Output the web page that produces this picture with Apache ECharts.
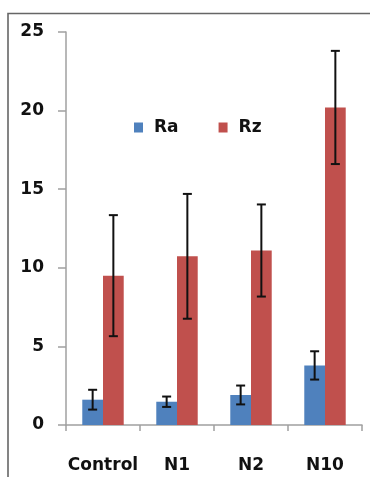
<!DOCTYPE html>
<html>
<head>
<meta charset="utf-8">
<script src="https://cdn.jsdelivr.net/npm/echarts@6/dist/echarts.min.js"></script>
<style>html,body{margin:0;padding:0;background:#fff;}#c{width:370px;height:477px;}</style>
</head>
<body>
<div id="c"></div>
<script>
var categories = ['Control', 'N1', 'N2', 'N10'];
var raValues = [1.61, 1.48, 1.91, 3.79];
var raErrors = [0.63, 0.33, 0.60, 0.90];
var rzValues = [9.5, 10.73, 11.1, 20.2];
var rzErrors = [3.85, 3.97, 2.93, 3.6];
var yTicks = [0, 5, 10, 15, 20, 25];

var BAR_FRAC = 0.28;
var chart = echarts.init(document.getElementById('c'));
var font = 'DejaVu Sans';

function errSeries(name, values, errors, side) {
  var data = values.map(function (v, i) { return [i, v, errors[i]]; });
  return {
    type: 'custom',
    name: name + ' err',
    z: 10,
    silent: true,
    data: data,
    renderItem: function (params, api) {
      var i = api.value(0), v = api.value(1), e = api.value(2);
      var band = api.size([1, 0])[0];
      var off = side * band * BAR_FRAC / 2;
      var top = api.coord([i, v + e]);
      var bot = api.coord([i, v - e]);
      var x = top[0] + off;
      var cap = 4.5;
      var st = { stroke: '#111', lineWidth: 2 };
      return {
        type: 'group',
        children: [
          { type: 'line', shape: { x1: x, y1: top[1], x2: x, y2: bot[1] }, style: st },
          { type: 'line', shape: { x1: x - cap, y1: top[1], x2: x + cap, y2: top[1] }, style: st },
          { type: 'line', shape: { x1: x - cap, y1: bot[1], x2: x + cap, y2: bot[1] }, style: st }
        ]
      };
    }
  };
}

chart.setOption({
  animation: false,
  backgroundColor: '#fff',
  grid: { left: 66, right: 8, top: 32, bottom: 52, containLabel: false },
  legend: {
    data: ['Ra', 'Rz'],
    left: 129, top: 114,
    icon: 'rect',
    itemWidth: 9, itemHeight: 10,
    itemGap: 40,
    textStyle: { fontFamily: font, fontWeight: 'bold', fontSize: 17, color: '#111', padding: [0, 0, 0, 6] }
  },
  xAxis: {
    type: 'category',
    data: categories,
    axisLine: { lineStyle: { color: '#a0a0a0', width: 1.5 } },
    axisTick: { show: true, length: 6, lineStyle: { color: '#a0a0a0', width: 1.5 } },
    axisLabel: { interval: 0, margin: 32, fontFamily: font, fontWeight: 'bold', fontSize: 17, color: '#111' }
  },
  yAxis: {
    type: 'value',
    min: 0, max: 25, interval: 5,
    splitLine: { show: false },
    axisLine: { show: true, lineStyle: { color: '#a0a0a0', width: 1.5 } },
    axisTick: { show: true, length: 8, lineStyle: { color: '#a0a0a0', width: 1.5 } },
    axisLabel: { margin: 22, fontFamily: font, fontWeight: 'bold', fontSize: 17, color: '#111',
      formatter: function (v) { return yTicks.indexOf(v) >= 0 ? String(v) : ''; } }
  },
  graphic: [{
    type: 'polyline',
    shape: { points: [[8, 477], [8, 13.5], [370, 13.5]] },
    style: { stroke: '#666', lineWidth: 1.6, fill: null }
  }],
  series: [
    { name: 'Ra', type: 'bar', data: raValues, barWidth: (BAR_FRAC * 100) + '%', barGap: '0%', itemStyle: { color: '#4F81BD' } },
    { name: 'Rz', type: 'bar', data: rzValues, barWidth: (BAR_FRAC * 100) + '%', barGap: '0%', itemStyle: { color: '#C0504D' } },
    errSeries('Ra', raValues, raErrors, -1),
    errSeries('Rz', rzValues, rzErrors, 1)
  ]
});
</script>
</body>
</html>
